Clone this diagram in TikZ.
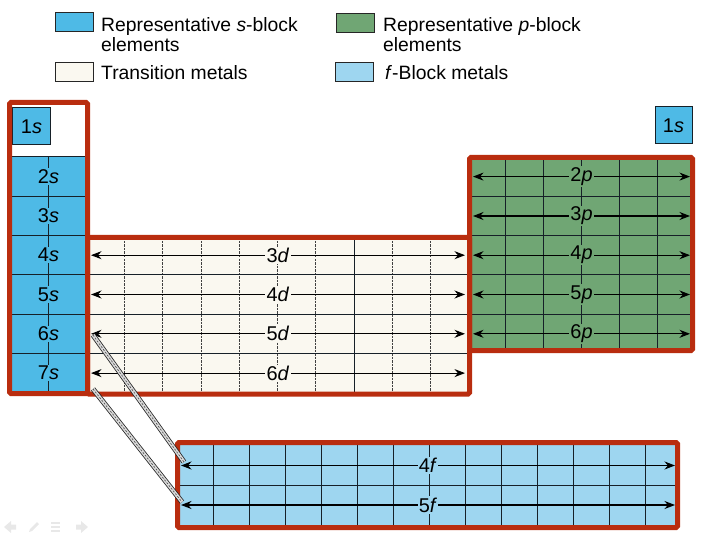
\documentclass[tikz,border=0pt]{standalone}
\usepackage{fontspec}
\setmainfont{Liberation Sans}
\usetikzlibrary{arrows.meta,positioning}

\definecolor{sblue}{RGB}{78,186,230}
\definecolor{fblue}{RGB}{158,214,240}
\definecolor{pgreen}{RGB}{112,166,116}
\definecolor{dwhite}{RGB}{250,248,240}
\definecolor{blockred}{RGB}{185,45,15}
\definecolor{gridline}{RGB}{22,32,40}

\tikzset{
  redbox/.style={draw=blockred, line width=5bp, rounded corners=1.5bp},
  gridln/.style={draw=gridline, line width=1bp},
  dgridln/.style={draw=black!75, line width=0.8bp, dash pattern=on 2.5bp off 1bp},
  orbital/.style={draw=black, line width=1.1bp,
    {Stealth[length=10.5bp,width=8bp]}-{Stealth[length=10.5bp,width=8bp]}},
  lbl/.style={inner sep=1.2bp, font=\fontsize{20}{20}\selectfont},
  cell/.style={draw=gridline, line width=1bp, fill=sblue, minimum size=37bp,
    inner sep=0pt, font=\fontsize{20}{20}\selectfont},
  keybox/.style={draw=black!85, line width=0.8bp, minimum width=38bp,
    minimum height=19bp, inner sep=0pt},
  keytext/.style={anchor=north west, inner sep=0pt, align=left,
    font=\fontsize{19.4}{20}\selectfont},
  band/.style={draw=black!85, line width=0.8bp, double=white!85!black, double distance=3.5bp},
  bandmid/.style={draw=black!70, line width=0.6bp, dash pattern=on 2bp off 1.5bp},
  navicon/.style={fill=black!9},
}

\begin{document}
\begin{tikzpicture}[x=1bp,y=-1bp]
  \useasboundingbox (0,0) rectangle (720,540);

  % legend
  \node[keybox, fill=sblue] (keys) at (74,22) {};
  \node[keytext] (keystext) at (101,17.5) {Representative \textit{s}-block\\elements};
  \node[keybox, fill=dwhite] (keyd) at (74,71.5) {};
  \node[keytext] (keydtext) at (101,65) {Transition metals};
  \node[keybox, fill=pgreen] (keyp) at (355,22.5) {};
  \node[keytext] (keyptext) at (383,17.5) {Representative \textit{p}-block\\elements};
  \node[keybox, fill=fblue] (keyf) at (354,72) {};
  \node[keytext] (keyftext) at (385,65) {\textit{f}-Block metals};

  % s block
  \fill[sblue] (10,157) rectangle (87.5,393);
  \foreach \y in {157,196.3,235.6,274.9,314.2,353.5}
    \draw[gridln] (10,\y) -- (87.5,\y);
  \draw[gridln] (48.5,157) -- (48.5,393);
  \node[lbl, fill=sblue] (s2) at (48.5,176.6) {2\textit{s}};
  \node[lbl, fill=sblue] (s3) at (48.5,216) {3\textit{s}};
  \node[lbl, fill=sblue] (s4) at (48.5,255.2) {4\textit{s}};
  \node[lbl, fill=sblue] (s5) at (48.5,294.5) {5\textit{s}};
  \node[lbl, fill=sblue] (s6) at (48.5,333.8) {6\textit{s}};
  \node[lbl, fill=sblue] (s7) at (48.5,373.1) {7\textit{s}};
  \node[cell] (h1s) at (31.5,126.5) {1\textit{s}};
  \node[cell] (he1s) at (673.5,125.5) {1\textit{s}};

  % d block
  \fill[dwhite] (87.5,237.5) rectangle (469.5,394);
  \foreach \x in {124.3,162.6,200.9,239.2,277.5,315.8,392.4,430.7}
    \draw[dgridln] (\x,237.5) -- (\x,394);
  \draw[gridln] (354.1,237.5) -- (354.1,394);
  \foreach \y in {274.9,314.2,353.5}
    \draw[gridln] (87.5,\y) -- (469.5,\y);
  \coordinate (d3w) at (91,255.2);  \coordinate (d3e) at (465,255.2);
  \coordinate (d4w) at (91,294.5);  \coordinate (d4e) at (465,294.5);
  \coordinate (d5w) at (91,333.8);  \coordinate (d5e) at (465,333.8);
  \coordinate (d6w) at (91,373.1);  \coordinate (d6e) at (465,373.1);
  \draw[orbital] (d3w) -- node[lbl, fill=dwhite] (l3d) {3\textit{d}} (d3e);
  \draw[orbital] (d4w) -- node[lbl, fill=dwhite] (l4d) {4\textit{d}} (d4e);
  \draw[orbital] (d5w) -- node[lbl, fill=dwhite] (l5d) {5\textit{d}} (d5e);
  \draw[orbital] (d6w) -- node[lbl, fill=dwhite] (l6d) {6\textit{d}} (d6e);

  % p block
  \fill[pgreen] (469.5,157.5) rectangle (692.5,350.5);
  \foreach \x in {505.5,543.5,581.5,619.5,657.5}
    \draw[gridln] (\x,157.5) -- (\x,350.5);
  \foreach \y in {196.3,235.6,274.9,314.2}
    \draw[gridln] (469.5,\y) -- (692.5,\y);
  \coordinate (p2w) at (473,176.6);  \coordinate (p2e) at (690,176.6);
  \coordinate (p3w) at (473,216);    \coordinate (p3e) at (690,216);
  \coordinate (p4w) at (473,255.2);  \coordinate (p4e) at (690,255.2);
  \coordinate (p5w) at (473,294.5);  \coordinate (p5e) at (690,294.5);
  \coordinate (p6w) at (473,333.8);  \coordinate (p6e) at (690,333.8);
  \draw[orbital] (p2w) -- node[lbl, fill=pgreen] (l2p) {2\textit{p}} (p2e);
  \draw[orbital] (p3w) -- node[lbl, fill=pgreen] (l3p) {3\textit{p}} (p3e);
  \draw[orbital] (p4w) -- node[lbl, fill=pgreen] (l4p) {4\textit{p}} (p4e);
  \draw[orbital] (p5w) -- node[lbl, fill=pgreen] (l5p) {5\textit{p}} (p5e);
  \draw[orbital] (p6w) -- node[lbl, fill=pgreen] (l6p) {6\textit{p}} (p6e);

  % f block
  \fill[fblue] (177.5,442.5) rectangle (677.5,527.5);
  \foreach \k in {1,...,13}
    \draw[gridln] (177+36*\k,442.5) -- (177+36*\k,527.5);
  \draw[gridln] (177.5,485) -- (677.5,485);
  \coordinate (f4w) at (181,465.5);  \coordinate (f4e) at (675,465.5);
  \coordinate (f5w) at (181,505);    \coordinate (f5e) at (675,505);
  \draw[orbital] (f4w) -- node[lbl, fill=fblue] (l4f) {4\textit{f}} (f4e);
  \draw[orbital] (f5w) -- node[lbl, fill=fblue] (l5f) {5\textit{f}} (f5e);

  % outlines
  \draw[redbox] (9.5,102.5) rectangle (87.5,393.5);
  \draw[redbox] (87.5,237.5) rectangle (469.5,394);
  \draw[redbox] (469.5,157.5) rectangle (692.5,350.5);
  \draw[redbox] (177.5,442.5) rectangle (677.5,527.5);

  % bands to the f block
  \coordinate (lan) at (93,335);
  \coordinate (act) at (93,389);
  \coordinate (lanf) at (184,462);
  \coordinate (actf) at (182,502);
  \draw[band] (lan) -- (lanf);
  \draw[bandmid] (lan) -- (lanf);
  \draw[band] (act) -- (actf);
  \draw[bandmid] (act) -- (actf);

  % slide controls
  \fill[navicon] (4,527) -- (11,521) -- (11,524.5) -- (16,524.5) -- (16,529.5)
    -- (11,529.5) -- (11,533) -- cycle;
  \fill[navicon] (29,532) -- (30,529) -- (37,522) -- (39,524) -- (32,531) -- cycle;
  \fill[navicon] (51,522) rectangle (60,524);
  \fill[navicon] (51,526) rectangle (60,528);
  \fill[navicon] (51,530) rectangle (60,532);
  \fill[navicon] (88,527) -- (81,521) -- (81,524.5) -- (76,524.5) -- (76,529.5)
    -- (81,529.5) -- (81,533) -- cycle;
\end{tikzpicture}
\end{document}
